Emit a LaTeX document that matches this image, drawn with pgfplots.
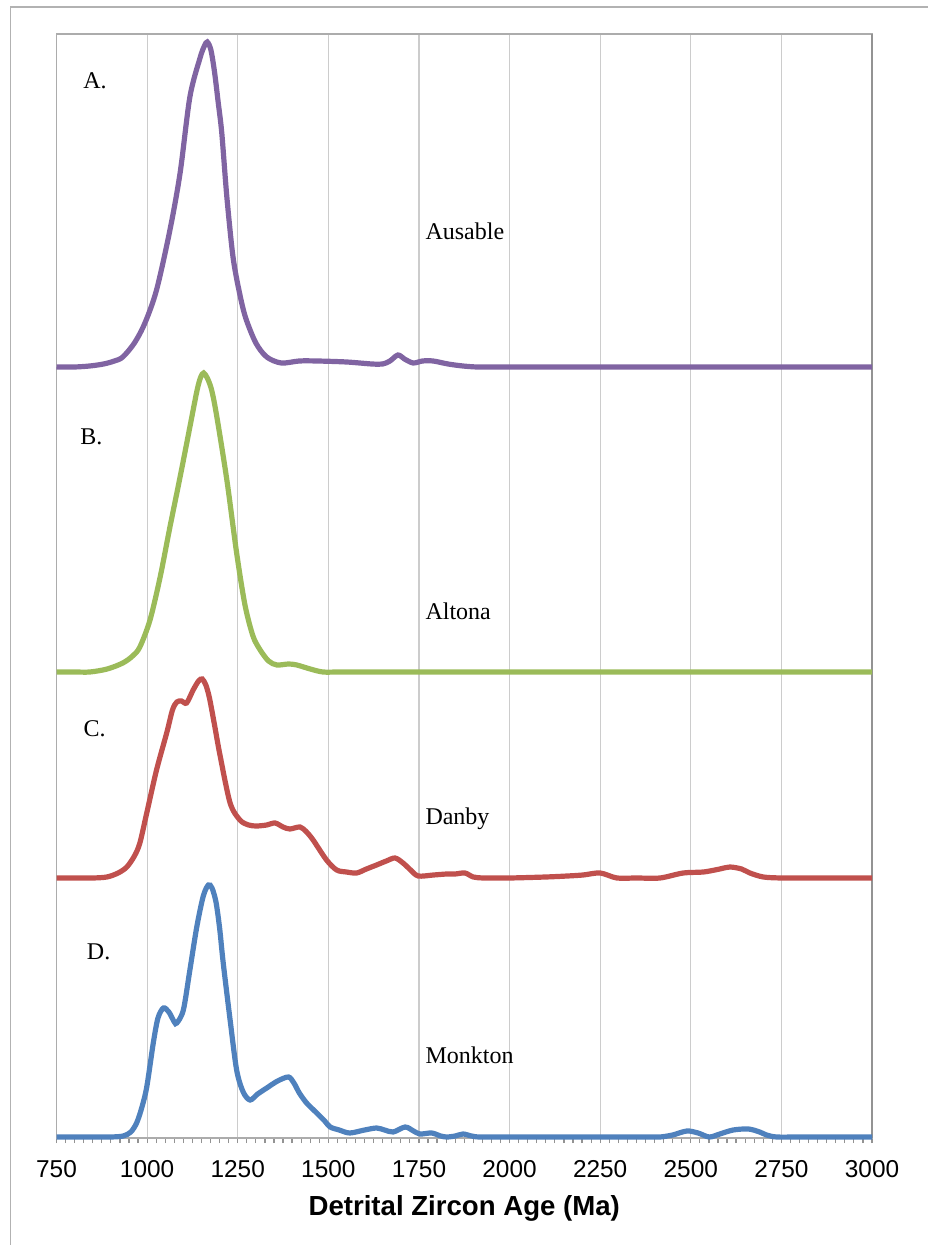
\documentclass[border=0pt]{standalone}
\usepackage{fontspec}
\setmainfont{Liberation Serif}
\setsansfont{Liberation Sans}
\usepackage{pgfplots}
\pgfplotsset{compat=1.18}
\definecolor{cA}{RGB}{128,100,162}
\definecolor{cB}{RGB}{155,187,89}
\definecolor{cC}{RGB}{192,80,77}
\definecolor{cD}{RGB}{79,129,189}
\begin{document}
\begin{tikzpicture}
\path[use as bounding box] (-28.25pt,-53.5pt) rectangle (435.25pt,569pt);
\draw[gray!60, line width=0.75pt] (-23pt,-80pt) -- (-23pt,565.5pt) -- (480pt,565.5pt);
\begin{axis}[
  at={(0,0)}, anchor=south west,
  scale only axis, width=407.75pt, height=552pt,
  xmin=750, xmax=3000, ymin=0, ymax=1104,
  xtick={750,1000,...,3000}, minor x tick num=9,
  ytick=\empty, xtick pos=left,
  tick align=outside, major tick length=2.6pt, minor tick length=2.6pt,
  tick style={gray!85, line width=0.6pt},
  xmajorgrids, major grid style={gray!40, line width=0.6pt},
  axis line style={draw=gray!65, line width=0.8pt},
  /pgf/number format/assume math mode=true,
  /pgf/number format/1000 sep={},
  xticklabel style={font=\sffamily\fontsize{12.2}{14}\selectfont, yshift=-5pt},
  xlabel={Detrital Zircon Age (Ma)},
  xlabel style={font=\sffamily\bfseries\fontsize{13.8}{16}\selectfont, yshift=-2pt},
  every axis plot/.append style={line width=2.6pt, smooth, tension=0.5, no markers},
  clip=false,
]
\draw[gray!85, line width=1.2pt] (rel axis cs:1,0) -- (rel axis cs:1,1);
% A. Ausable
\addplot[cA] coordinates {
(750,771) (800,771) (842,772) (880,774) (910,777) (933,781) (965,795) (994,815)
(1026,848) (1063,908) (1091,965) (1118,1041) (1146,1080) (1158,1092) (1166,1096) (1176,1088)
(1186,1066) (1196,1036) (1206,1005) (1220,941) (1237,881) (1255,845) (1272,820) (1300,795)
(1330,781) (1370,775) (1420,777) (1468,777) (1550,776) (1620,774) (1650,774)
(1670,777) (1692,783) (1710,779) (1734,775) (1760,777) (1789,777) (1830,774)
(1871,772) (1910,771) (1960,771) (2050,771) (2150,771) (2250,771) (2350,771)
(2450,771) (2550,771) (2650,771) (2750,771) (2850,771) (2950,771) (3000,771)};
% B. Altona
\addplot[cB] coordinates {
(750,466) (800,466) (842,466) (890,469) (933,475) (960,482) (980,491) (1008,518) (1036,561)
(1063,611) (1091,661) (1118,711) (1138,748) (1148,761) (1156,765) (1166,760) (1178,748) (1192,722)
(1220,658) (1247,585) (1270,533) (1292,502) (1312,488) (1335,477) (1358,473)
(1390,474) (1413,473) (1450,469) (1485,466) (1530,466) (1600,466) (1700,466)
(1800,466) (1900,466) (2000,466) (2100,466) (2200,466) (2300,466) (2400,466)
(2500,466) (2600,466) (2700,466) (2800,466) (2900,466) (3000,466)};
% C. Danby
\addplot[cC] coordinates {
(750,260) (800,260) (850,260) (889,261) (920,265) (944,271) (965,282) (980,295) (999,325)
(1026,368) (1054,405) (1070,428) (1082,436) (1095,437) (1109,435) (1127,448)
(1142,457) (1152,459) (1162,453) (1172,440) (1186,413) (1201,383) (1229,335) (1256,318)
(1280,313) (1302,312) (1330,313) (1353,315) (1375,311) (1394,309) (1422,311)
(1440,306) (1458,298) (1495,278) (1523,268) (1550,266) (1578,265) (1605,269)
(1633,273) (1660,277) (1684,280) (1706,275) (1727,268) (1748,262) (1790,263)
(1827,264) (1850,264) (1877,265) (1900,261) (1930,260) (2000,260) (2100,261) (2160,262) (2203,263)
(2250,265) (2296,260) (2350,260) (2415,260) (2479,265) (2535,266) (2580,269) (2608,271)
(2640,269) (2663,265) (2700,261) (2749,260) (2800,260) (2900,260) (3000,260)};
% D. Monkton
\addplot[cD] coordinates {
(750,1) (800,1) (850,1) (900,1) (934,2) (955,6) (971,15) (985,30) (999,51) (1017,95) (1030,120)
(1045,130) (1060,126) (1075,116) (1082,115) (1100,128) (1118,168) (1137,211)
(1155,242) (1169,253) (1179,250) (1190,236) (1200,210) (1210,175) (1229,118) (1247,68)
(1265,46) (1284,38) (1305,44) (1330,50) (1360,57) (1390,61) (1405,55) (1420,45)
(1440,35) (1468,25) (1490,17) (1505,11) (1530,8) (1559,5) (1600,8) (1633,10)
(1655,8) (1679,6) (1712,11) (1735,7) (1753,4) (1785,5) (1810,2) (1827,1)
(1850,2) (1872,4) (1895,2) (1918,1) (2000,1) (2100,1) (2200,1) (2300,1) (2380,1) (2415,1) (2450,3) (2489,7) (2520,5)
(2551,1) (2580,4) (2617,8) (2659,9) (2690,6) (2709,3) (2737,1) (2800,1) (2900,1) (3000,1)};
\node[anchor=base west, font=\fontsize{12}{14}\selectfont, inner sep=0pt] at (axis cs:823,1049) {A.};
\node[anchor=base west, font=\fontsize{12}{14}\selectfont, inner sep=0pt] at (axis cs:815,693) {B.};
\node[anchor=base west, font=\fontsize{12}{14}\selectfont, inner sep=0pt] at (axis cs:824,401) {C.};
\node[anchor=base west, font=\fontsize{12}{14}\selectfont, inner sep=0pt] at (axis cs:833,178) {D.};
\node[anchor=base west, font=\fontsize{12}{14}\selectfont, inner sep=0pt] at (axis cs:1767,898) {Ausable};
\node[anchor=base west, font=\fontsize{12}{14}\selectfont, inner sep=0pt] at (axis cs:1767,518) {Altona};
\node[anchor=base west, font=\fontsize{12}{14}\selectfont, inner sep=0pt] at (axis cs:1767,313) {Danby};
\node[anchor=base west, font=\fontsize{12}{14}\selectfont, inner sep=0pt] at (axis cs:1767,74) {Monkton};
\end{axis}
\end{tikzpicture}
\end{document}
